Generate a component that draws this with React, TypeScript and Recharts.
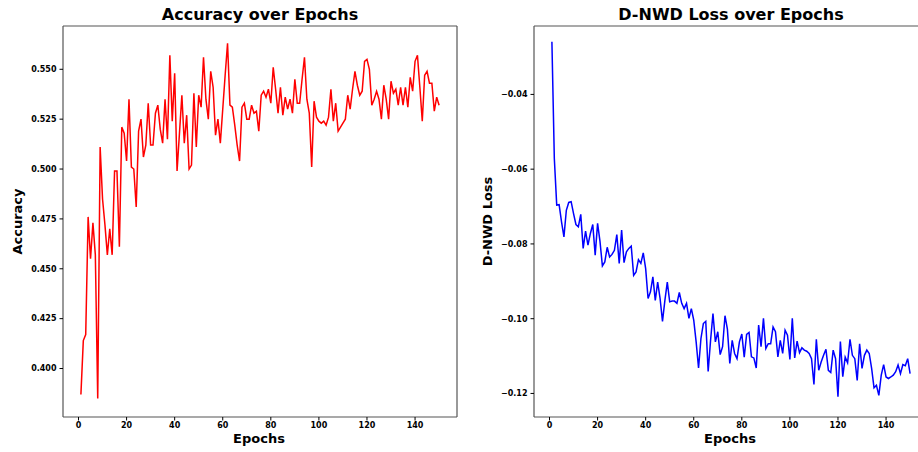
import React from 'react';
import { LineChart, Line, XAxis, YAxis } from 'recharts';

const epochs: number[] = Array.from({ length: 150 }, (_, i) => i + 1);

const accuracy: number[] = [
  0.387, 0.414, 0.417, 0.476, 0.455, 0.473, 0.457, 0.385, 0.511, 0.485,
  0.472, 0.457, 0.470, 0.457, 0.499, 0.499, 0.461, 0.521, 0.518, 0.504,
  0.535, 0.501, 0.500, 0.481, 0.519, 0.525, 0.506, 0.512, 0.533, 0.512,
  0.512, 0.528, 0.532, 0.520, 0.513, 0.535, 0.515, 0.557, 0.524, 0.548,
  0.499, 0.518, 0.537, 0.513, 0.527, 0.500, 0.502, 0.538, 0.511, 0.537,
  0.531, 0.556, 0.535, 0.525, 0.549, 0.541, 0.517, 0.525, 0.513, 0.530,
  0.547, 0.563, 0.532, 0.531, 0.522, 0.512, 0.504, 0.531, 0.533, 0.525,
  0.525, 0.532, 0.528, 0.529, 0.519, 0.537, 0.539, 0.536, 0.540, 0.533,
  0.551, 0.540, 0.528, 0.541, 0.527, 0.536, 0.530, 0.535, 0.528, 0.545,
  0.533, 0.533, 0.545, 0.556, 0.535, 0.528, 0.501, 0.534, 0.526, 0.524,
  0.523, 0.524, 0.522, 0.526, 0.540, 0.524, 0.533, 0.519, 0.521, 0.523,
  0.525, 0.537, 0.530, 0.540, 0.549, 0.542, 0.537, 0.539, 0.554, 0.555,
  0.550, 0.532, 0.535, 0.539, 0.535, 0.525, 0.542, 0.535, 0.525, 0.544,
  0.538, 0.540, 0.532, 0.541, 0.532, 0.541, 0.531, 0.546, 0.539, 0.554,
  0.557, 0.541, 0.524, 0.547, 0.549, 0.543, 0.543, 0.529, 0.536, 0.532,
];

const dnwdLoss: number[] = [
  -0.0259, -0.0571, -0.0696, -0.0695, -0.0741, -0.0781, -0.0710, -0.0689, -0.0687, -0.0719,
  -0.0748, -0.0754, -0.0721, -0.0812, -0.0766, -0.0803, -0.0772, -0.0748, -0.0830, -0.0745,
  -0.0793, -0.0859, -0.0848, -0.0809, -0.0835, -0.0828, -0.0817, -0.0775, -0.0852, -0.0763,
  -0.0850, -0.0821, -0.0812, -0.0806, -0.0884, -0.0875, -0.0842, -0.0852, -0.0824, -0.0866,
  -0.0946, -0.0928, -0.0888, -0.0951, -0.0902, -0.0946, -0.1007, -0.0951, -0.0902, -0.0955,
  -0.0953, -0.0953, -0.0959, -0.0930, -0.0959, -0.0973, -0.0959, -0.0999, -0.0973, -0.1004,
  -0.1062, -0.1132, -0.1053, -0.1013, -0.1007, -0.1141, -0.1058, -0.0986, -0.1062, -0.1035,
  -0.1096, -0.1075, -0.0992, -0.1028, -0.1120, -0.1058, -0.1093, -0.1107, -0.1062, -0.1041,
  -0.1103, -0.1042, -0.1037, -0.1102, -0.1105, -0.1132, -0.1017, -0.1075, -0.0999, -0.1080,
  -0.1067, -0.1067, -0.1022, -0.1035, -0.1102, -0.1058, -0.1093, -0.1031, -0.1044, -0.1109,
  -0.0999, -0.1105, -0.1060, -0.1091, -0.1078, -0.1084, -0.1087, -0.1093, -0.1107, -0.1176,
  -0.1055, -0.1138, -0.1116, -0.1098, -0.1082, -0.1138, -0.1144, -0.1084, -0.1107, -0.1209,
  -0.1061, -0.1155, -0.1103, -0.1118, -0.1055, -0.1098, -0.1107, -0.1165, -0.1067, -0.1133,
  -0.1098, -0.1084, -0.1093, -0.1133, -0.1185, -0.1178, -0.1205, -0.1151, -0.1123, -0.1156,
  -0.1160, -0.1156, -0.1151, -0.1142, -0.1124, -0.1147, -0.1123, -0.1126, -0.1107, -0.1147,
];

const epochTicks: number[] = [0, 20, 40, 60, 80, 100, 120, 140];
const accuracyTicks: number[] = [0.4, 0.425, 0.45, 0.475, 0.5, 0.525, 0.55];
const lossTicks: number[] = [-0.12, -0.1, -0.08, -0.06, -0.04];

const titles = ['Accuracy over Epochs', 'D-NWD Loss over Epochs'];
const yLabels = ['Accuracy', 'D-NWD Loss'];
const xLabel = 'Epochs';

const data = epochs.map((e, i) => ({ epoch: e, accuracy: accuracy[i], loss: dnwdLoss[i] }));

const FONT = '"DejaVu Sans", sans-serif';
const tickStyle = { fontSize: 8, fontWeight: 'bold' as const, fill: '#000', fontFamily: FONT };
const frame = '#555';

const X_DOMAIN: [number, number] = [-6.45, 157.45];

function Panel(props: {
  dataKey: string;
  color: string;
  domain: [number, number];
  ticks: number[];
  fmt: (v: number) => string;
}) {
  const { dataKey, color, domain, ticks, fmt } = props;
  return (
    <LineChart width={460} height={452} data={data} margin={{ top: 25, right: 2, left: 0, bottom: 0 }}>
      <XAxis
        dataKey="epoch"
        type="number"
        domain={X_DOMAIN}
        ticks={epochTicks}
        allowDataOverflow
        height={35}
        tickSize={3.5}
        tickMargin={2}
        tick={tickStyle}
        tickLine={{ stroke: '#000' }}
        axisLine={{ stroke: frame, strokeWidth: 1.2 }}
      />
      <XAxis
        xAxisId="top"
        orientation="top"
        dataKey="epoch"
        type="number"
        domain={X_DOMAIN}
        allowDataOverflow
        height={1}
        tick={false}
        tickLine={false}
        axisLine={{ stroke: frame, strokeWidth: 1.2 }}
      />
      <YAxis
        type="number"
        domain={domain}
        ticks={ticks}
        allowDataOverflow
        width={63}
        tickSize={3.5}
        tickMargin={3}
        tick={tickStyle}
        tickLine={{ stroke: '#000' }}
        tickFormatter={fmt}
        axisLine={{ stroke: frame, strokeWidth: 1.2 }}
      />
      <YAxis
        yAxisId="right"
        orientation="right"
        type="number"
        domain={domain}
        allowDataOverflow
        width={1}
        tick={false}
        tickLine={false}
        axisLine={{ stroke: frame, strokeWidth: 1.2 }}
      />
      <Line
        type="linear"
        dataKey={dataKey}
        stroke={color}
        strokeWidth={1.5}
        dot={false}
        activeDot={false}
        isAnimationActive={false}
      />
    </LineChart>
  );
}

export default function App() {
  return (
    <div
      style={{
        position: 'absolute',
        left: 0,
        top: 0,
        width: 918,
        height: 452,
        overflow: 'hidden',
        background: '#fff',
      }}
    >
      <div style={{ position: 'absolute', left: 0, top: 0 }}>
        <Panel
          dataKey="accuracy"
          color="#ff0000"
          domain={[0.3757, 0.5717]}
          ticks={accuracyTicks}
          fmt={(v) => v.toFixed(3)}
        />
      </div>
      <div style={{ position: 'absolute', left: 471, top: 0 }}>
        <Panel
          dataKey="loss"
          color="#0000ff"
          domain={[-0.1263, -0.0217]}
          ticks={lossTicks}
          fmt={(v) => v.toFixed(2).replace('-', '\u2212')}
        />
      </div>
      <svg
        width={918}
        height={452}
        style={{ position: 'absolute', left: 0, top: 0, pointerEvents: 'none' }}
      >
        <g fontFamily={FONT} fontWeight="bold" fill="#000">
          <text x={260} y={20} fontSize={16} textAnchor="middle">{titles[0]}</text>
          <text x={731} y={20} fontSize={16} textAnchor="middle">{titles[1]}</text>
          <text x={259} y={443} fontSize={13} textAnchor="middle">{xLabel}</text>
          <text x={730} y={443} fontSize={13} textAnchor="middle">{xLabel}</text>
          <text x={22} y={221.5} fontSize={13} textAnchor="middle" transform="rotate(-90 22 221.5)">{yLabels[0]}</text>
          <text x={492} y={221.5} fontSize={13} textAnchor="middle" transform="rotate(-90 492 221.5)">{yLabels[1]}</text>
        </g>
      </svg>
    </div>
  );
}
